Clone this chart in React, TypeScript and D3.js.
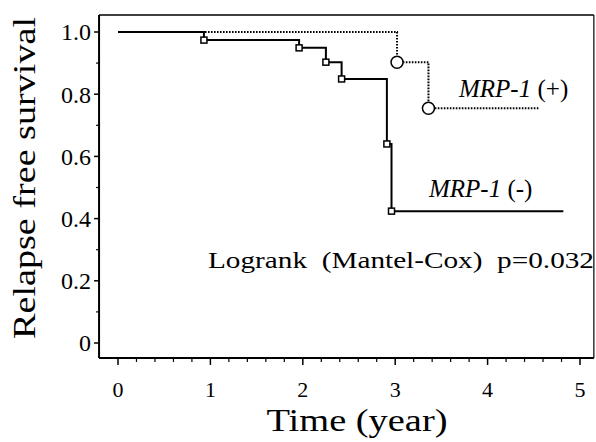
import React from "react";
import * as d3 from "d3";

// Kaplan-Meier steps
const negTimes = [0, 0.93, 1.96, 2.25, 2.42, 2.91, 2.96, 4.82];
const negSurv = [1.0, 0.974, 0.949, 0.903, 0.849, 0.64, 0.424, 0.424];
const posTimes = [0, 3.02, 3.36, 4.55];
const posSurv = [1.0, 0.903, 0.755, 0.755];

const xTicks = [0, 1, 2, 3, 4, 5];
const yTicks = [0, 0.2, 0.4, 0.6, 0.8, 1.0];
const yTickLabels = ["0", "0.2", "0.4", "0.6", "0.8", "1.0"];

const W = 596;
const H = 442;
const FONT = "'Liberation Serif', 'DejaVu Serif', serif";

export default function App() {
  const x = d3.scaleLinear().domain([0, 5]).range([118, 580]);
  const y = d3.scaleLinear().domain([0, 1]).range([343, 32]);

  const left = x(-0.205);
  const right = x(5.15);
  const top = y(1.055);
  const bottom = y(-0.048);

  const neg = negTimes.map((t, i) => [t, negSurv[i]] as [number, number]);
  const pos = posTimes.map((t, i) => [t, posSurv[i]] as [number, number]);

  const line = d3
    .line<[number, number]>()
    .x((d) => x(d[0]))
    .y((d) => y(d[1]))
    .curve(d3.curveStepAfter);

  const xMinor = d3.range(0, 5.001, 0.2).filter((v) => Math.abs(v - Math.round(v)) > 0.01);
  const yMinor = [0.1, 0.3, 0.5, 0.7, 0.9];
  const tf = { fontFamily: FONT };

  return (
    <svg
      width={W}
      height={H}
      style={{ position: "absolute", left: 0, top: 0, background: "#fff" }}
    >
      {/* frame */}
      <line x1={left} x2={right} y1={top} y2={top} stroke="#000" strokeWidth={1.5} />
      <line x1={right} x2={right} y1={top} y2={bottom} stroke="#000" strokeWidth={1.2} />
      <line x1={left} x2={left} y1={top} y2={bottom} stroke="#000" strokeWidth={2} />
      <line x1={left} x2={right} y1={bottom} y2={bottom} stroke="#000" strokeWidth={2} />

      {/* x ticks */}
      {xTicks.map((t) => (
        <g key={"xt" + t}>
          <line x1={x(t)} x2={x(t)} y1={bottom} y2={bottom + 7} stroke="#000" strokeWidth={1.5} />
          <text x={x(t)} y={397} fontSize={22} textAnchor="middle" style={tf}>
            {t}
          </text>
        </g>
      ))}
      {xMinor.map((t) => (
        <line key={"xm" + t} x1={x(t)} x2={x(t)} y1={bottom} y2={bottom + 4} stroke="#000" strokeWidth={1.2} />
      ))}

      {/* y ticks */}
      {yTicks.map((t, i) => (
        <g key={"yt" + t}>
          <line x1={left - 5} x2={left} y1={y(t)} y2={y(t)} stroke="#000" strokeWidth={1.5} />
          <text x={left - 8} y={y(t)} dy="0.35em" fontSize={24} textAnchor="end" style={tf}>
            {yTickLabels[i]}
          </text>
        </g>
      ))}
      {yMinor.map((t) => (
        <line key={"ym" + t} x1={left - 3} x2={left} y1={y(t)} y2={y(t)} stroke="#000" strokeWidth={1.2} />
      ))}

      {/* curves */}
      <path d={line(pos) ?? ""} fill="none" stroke="#000" strokeWidth={2} strokeDasharray="1.6,1.4" />
      <path d={line(neg) ?? ""} fill="none" stroke="#000" strokeWidth={2} />

      {neg.slice(1, 7).map((d, i) => (
        <rect
          key={"sq" + i}
          x={x(d[0]) - 3}
          y={y(d[1]) - 3}
          width={6}
          height={6}
          fill="#fff"
          stroke="#000"
          strokeWidth={1.5}
        />
      ))}
      {pos.slice(1, 3).map((d, i) => (
        <circle key={"c" + i} cx={x(d[0])} cy={y(d[1])} r={6} fill="#fff" stroke="#000" strokeWidth={1.5} />
      ))}

      {/* labels */}
      <text x={459} y={97} fontSize={25} style={tf}>
        <tspan fontStyle="italic">MRP-1</tspan>
        <tspan> (+)</tspan>
      </text>
      <text x={429} y={197} fontSize={25} style={tf}>
        <tspan fontStyle="italic">MRP-1</tspan>
        <tspan> (-)</tspan>
      </text>
      <text
        x={208}
        y={268}
        fontSize={23}
        textLength={386}
        lengthAdjust="spacingAndGlyphs"
        style={{ ...tf, whiteSpace: "pre" }}
      >
        {"Logrank  (Mantel-Cox)  p=0.032"}
      </text>

      {/* axis titles */}
      <text
        x={357}
        y={431}
        fontSize={31}
        textAnchor="middle"
        textLength={181}
        lengthAdjust="spacingAndGlyphs"
        style={tf}
      >
        Time (year)
      </text>
      <text
        transform={`translate(35,${178}) rotate(-90)`}
        fontSize={32}
        textAnchor="middle"
        textLength={322}
        lengthAdjust="spacingAndGlyphs"
        style={tf}
      >
        Relapse free survival
      </text>
    </svg>
  );
}
